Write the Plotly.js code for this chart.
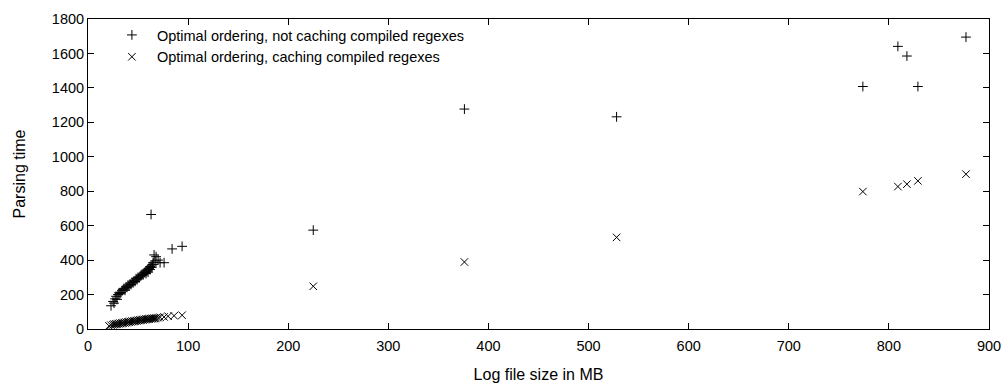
<!DOCTYPE html>
<html>
<head>
<meta charset="utf-8">
<script src="https://cdn.plot.ly/plotly-3.0.1.min.js"></script>
<style>html,body{margin:0;padding:0;background:#fff;}#chart{width:1006px;height:385px;}</style>
</head>
<body>
<div id="chart"></div>
<script>
// Series 1: Optimal ordering, not caching compiled regexes
const sizeNoCache = [23,25,26,27,28,29,30,31,32,33,34,35,36,37,38,39,40,41,42,43,44,45,46,47,48,49,50,51,52,53,54,55,56,57,58,59,60,61,62,63,64,65,66,58,60,62,64,65,67,68,70,72,76,63,84,94,225,376,528,774,809,818,829,877];
const timeNoCache = [135,160,150,175,190,172,200,210,205,212,222,228,236,225,245,242,255,250,262,258,272,268,280,276,292,286,300,296,306,312,318,314,326,330,336,342,346,352,362,358,372,385,430,322,330,345,360,375,395,420,400,385,385,665,465,480,574,1277,1232,1408,1641,1585,1408,1695];

// Series 2: Optimal ordering, caching compiled regexes
const sizeCache = [21,23,25,26,27,28,29,30,31,32,33,34,35,36,37,38,39,40,41,42,43,44,45,46,47,48,49,50,51,52,53,54,55,56,57,58,59,60,61,62,63,64,65,66,67,68,70,72,76,80,86,94,225,376,528,774,809,818,829,877];
const timeCache = [18,22,24,28,26,30,27,32,30,34,31,36,33,38,35,40,37,42,40,44,41,46,43,47,45,49,47,51,49,53,50,55,52,56,54,58,56,59,57,61,59,62,60,63,61,65,66,68,70,74,77,80,248,389,532,798,827,841,860,899];

const legendNames = ["Optimal ordering, not caching compiled regexes", "Optimal ordering, caching compiled regexes"];
const xTitle = "Log file size in MB";
const yTitle = "Parsing time";

const FONT = 'Liberation Sans, Arial, sans-serif';

const traces = [
  {x: sizeNoCache, y: timeNoCache, name: legendNames[0], type: 'scatter', mode: 'markers',
   marker: {symbol: 'cross-thin-open', size: 7, color: '#000', line: {width: 1, color: '#000'}}},
  {x: sizeCache, y: timeCache, name: legendNames[1], type: 'scatter', mode: 'markers',
   marker: {symbol: 'x-thin-open', size: 7.5, color: '#000', line: {width: 1, color: '#000'}}}
];

const axisCommon = {
  showgrid: false, zeroline: false, showline: true, linecolor: '#000', linewidth: 1,
  mirror: 'ticks', ticks: 'inside', ticklen: 6, tickwidth: 1, tickcolor: '#000',
  tickfont: {family: FONT, size: 14.5, color: '#000'}
};

const layout = {
  width: 1006, height: 385,
  margin: {l: 88, r: 17, t: 19, b: 56},
  paper_bgcolor: '#fff', plot_bgcolor: '#fff',
  font: {family: FONT, size: 14.5, color: '#000'},
  xaxis: Object.assign({}, axisCommon, {range: [0, 900], dtick: 100, tick0: 0, ticklabelstandoff: 4,
    title: {text: xTitle, standoff: 15, font: {family: FONT, size: 16}}}),
  yaxis: Object.assign({}, axisCommon, {range: [0, 1800], dtick: 200, tick0: 0,
    title: {text: yTitle, standoff: 22, font: {family: FONT, size: 16}}}),
  showlegend: true,
  legend: {x: 0.021, y: 1.0, xanchor: 'left', yanchor: 'top', bgcolor: 'rgba(0,0,0,0)',
    font: {family: FONT, size: 14.5}, tracegroupgap: 0, itemwidth: 40},
};

Plotly.newPlot('chart', traces, layout, {displayModeBar: false, staticPlot: true});
</script>
</body>
</html>
